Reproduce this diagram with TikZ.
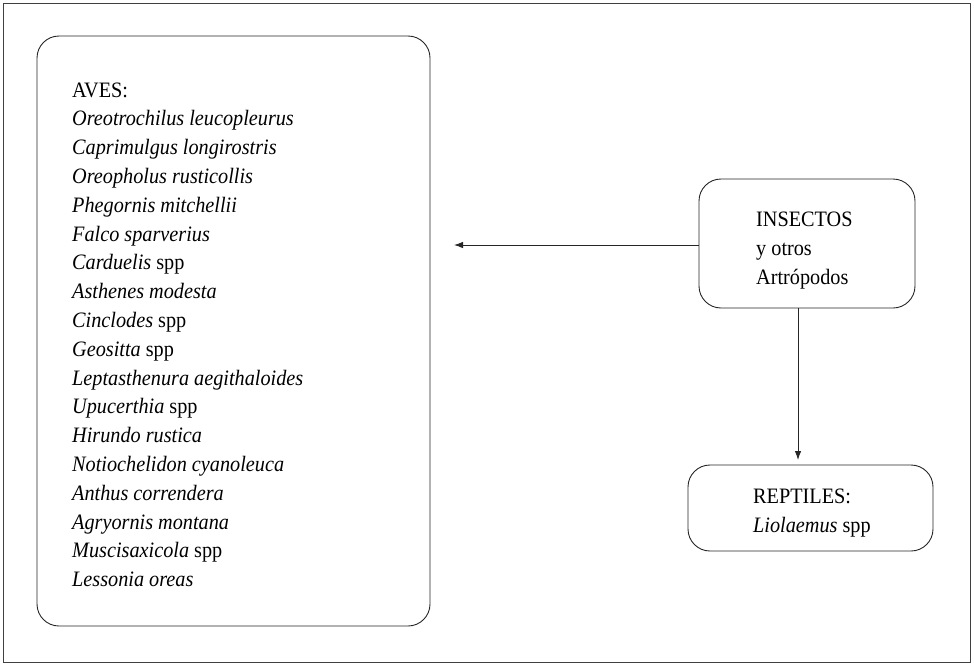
\documentclass[tikz,border=0pt]{standalone}
\usepackage{fontspec}
\setmainfont{Liberation Serif}[FakeStretch=0.92]
\usetikzlibrary{arrows.meta}
\begin{document}
\begin{tikzpicture}[x=1pt,y=-1pt,
  box/.style={draw=black!85, line width=0.9pt, rounded corners=22pt, inner sep=0pt},
  lbl/.style={inner sep=0pt, anchor=north west, align=left, font=\fontsize{22}{28.8}\selectfont},
  conn/.style={draw=black!85, line width=0.9pt, -{Latex[length=9pt,width=6.5pt]}}]
\useasboundingbox (0,0) rectangle (974,664);
\draw[black!75, line width=0.9pt] (3.5,3.5) rectangle (970.5,662.5);
\node[box, minimum width=393pt, minimum height=590pt] (aves) at (233.5,331) {};
\node[box, minimum width=216pt, minimum height=129pt] (ins) at (807,243.5) {};
\node[box, minimum width=245pt, minimum height=86pt] (rep) at (810.5,508) {};
\node[lbl] (avest) at (72,82.4) {AVES:\\
\textit{Oreotrochilus leucopleurus}\\
\textit{Caprimulgus longirostris}\\
\textit{Oreopholus rusticollis}\\
\textit{Phegornis mitchellii}\\
\textit{Falco sparverius}\\
\textit{Carduelis} spp\\
\textit{Asthenes modesta}\\
\textit{Cinclodes} spp\\
\textit{Geositta} spp\\
\textit{Leptasthenura aegithaloides}\\
\textit{Upucerthia} spp\\
\textit{Hirundo rustica}\\
\textit{Notiochelidon cyanoleuca}\\
\textit{Anthus correndera}\\
\textit{Agryornis montana}\\
\textit{Muscisaxicola} spp\\
\textit{Lessonia oreas}};
\node[lbl, font=\fontsize{22}{29}\selectfont] (inst) at (756,211.5) {INSECTOS\\ y otros\\ Artrópodos};
\node[lbl, font=\fontsize{22}{29}\selectfont] (rept) at (753,488.4) {REPTILES:\\ \textit{Liolaemus} spp};
\coordinate (htip) at (454,245);
\coordinate (vtip) at (798,460);
\draw[conn] (ins.west |- htip) -- (htip);
\draw[conn] (ins.south -| vtip) -- (vtip);
\end{tikzpicture}
\end{document}
